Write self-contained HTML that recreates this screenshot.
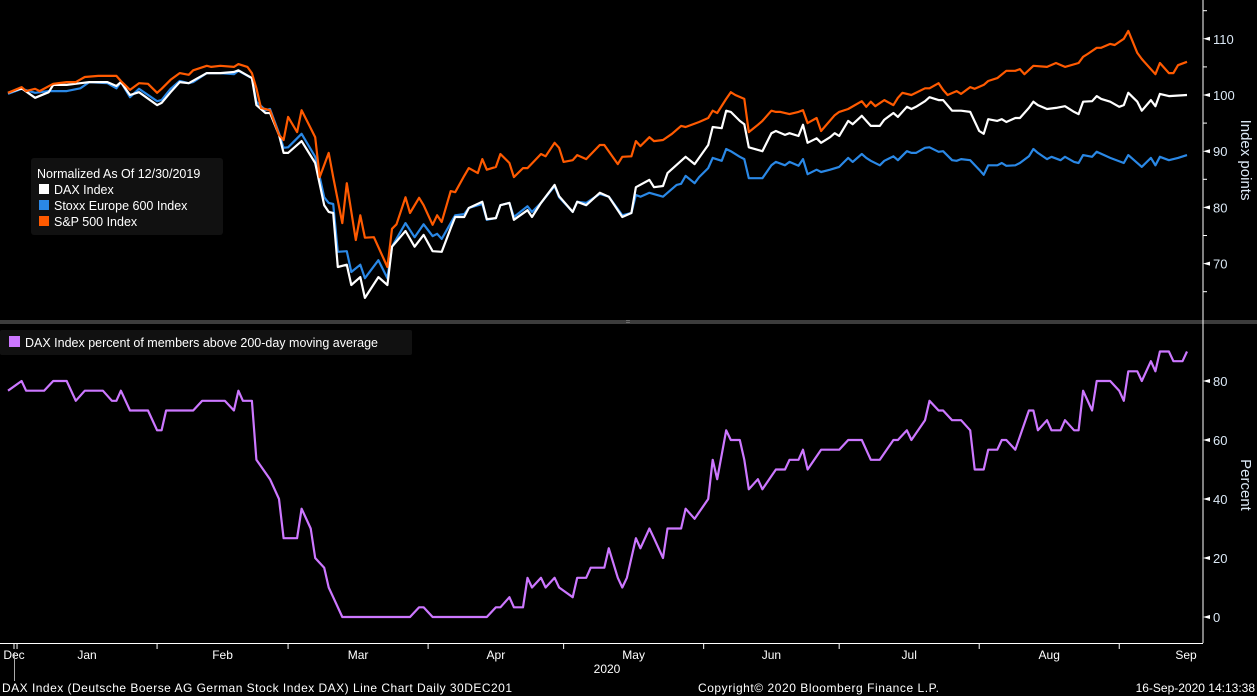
<!DOCTYPE html>
<html><head><meta charset="utf-8"><style>
html,body{margin:0;padding:0;background:#000;}
svg{display:block;font-family:"Liberation Sans",sans-serif;}
</style></head><body>
<svg id="chart" width="1257" height="696" viewBox="0 0 1257 696">
<rect x="0" y="0" width="1257" height="696" fill="#000"/>
<g id="topG"></g>
<rect x="0" y="320" width="1257" height="4" fill="#3c3c3c"/>
<text x="628" y="324" fill="#888" font-size="8" text-anchor="middle">=</text>
<g id="botG"></g>
<g id="axesG"></g>
<g>
<rect x="31" y="158" width="192" height="77" rx="3" fill="#111"/>
<text x="37" y="178" fill="#fff" font-size="12.5">Normalized As Of 12/30/2019</text>
<rect x="39" y="184" width="10" height="10" fill="#fff"/>
<text x="54" y="194" fill="#fff" font-size="12.5">DAX Index</text>
<rect x="39" y="200" width="10" height="10" fill="#2a88e6"/>
<text x="54" y="210" fill="#fff" font-size="12.5">Stoxx Europe 600 Index</text>
<rect x="39" y="216" width="10" height="10" fill="#ff5a00"/>
<text x="54" y="226" fill="#fff" font-size="12.5">S&amp;P 500 Index</text>
</g>
<g>
<rect x="0" y="330" width="412" height="25" rx="2" fill="#111"/>
<rect x="9" y="336" width="11" height="11" fill="#cc77ff"/>
<text x="25" y="347" fill="#fff" font-size="12.5">DAX Index percent of members above 200-day moving average</text>
</g>
<text x="2" y="692" fill="#fff" font-size="12" textLength="510">DAX Index (Deutsche Boerse AG German Stock Index DAX) Line Chart  Daily 30DEC201</text>
<text x="698" y="692" fill="#fff" font-size="12" textLength="241">Copyright© 2020 Bloomberg Finance L.P.</text>
<text x="1255" y="692" fill="#fff" font-size="12" text-anchor="end">16-Sep-2020 14:13:38</text>
</svg>
<script>
const oDays=[0,3,4,6,7,10,13,15,17,20,24,25,27,29,31,33,34,36,38,40,41,44,45,47,50,51,53,54,55,56,58,60,61,62,64,65,67,68,69,71,72,74,75,77,78,79,81,84,85,86,88,89,91,92,94,95,96,98,99,101,102,104,105,106,108,109,111,112,114,115,118,119,121,122,123,125,126,128,131,132,135,136,138,139,140,142,143,145,147,149,150,153,155,156,157,159,160,161,163,164,166,167,169,170,171,173,175,176,177,179,180,183,184,186,189,190,191,192,194,196,197,198,200,201,203,204,206,207,208,210,211,213,214,216,217,219,221,223,224,225,227,230,232,234,237,238,239,241,242,244,245,247,248,250,251,254,255,257,258,259,261];
const spVals=[100.4,101.4,100.7,101.1,100.7,102.0,102.3,102.3,103.2,103.4,103.4,102.5,100.9,102.1,102.0,100.4,101.1,102.7,103.9,103.6,104.4,105.2,105.0,105.2,105.0,105.5,105.0,103.9,101.2,97.7,97.3,92.9,92.0,96.1,93.4,97.3,94.1,92.5,85.4,89.7,85.4,77.2,84.3,74.2,78.6,74.6,74.7,69.4,76.2,77.0,81.8,79.0,81.7,80.4,76.9,78.6,77.4,82.9,82.7,85.6,87.0,86.1,88.6,86.7,87.2,89.5,87.9,85.4,87.0,87.0,89.5,89.1,91.5,90.6,88.1,88.4,89.3,88.6,91.1,91.1,87.7,89.0,89.1,91.8,90.9,92.5,91.8,92.0,93.1,94.5,94.3,95.2,95.9,97.2,96.8,99.3,100.5,100.0,99.3,93.4,94.7,95.4,97.2,97.0,97.0,96.6,97.0,97.3,95.0,95.9,93.6,96.4,97.0,97.5,98.9,97.9,98.8,98.0,99.1,98.2,99.5,100.4,100.0,100.4,101.2,101.2,102.1,100.9,100.0,100.7,100.2,101.4,101.1,101.8,102.5,103.0,104.3,104.3,104.6,103.7,105.2,105.0,105.7,105.0,105.7,106.8,107.3,108.4,108.4,109.1,108.9,110.0,111.4,107.5,106.4,103.7,105.7,103.9,103.9,105.3,105.9];
const daxDays=[0,3,6,9,10,13,16,18,22,24,25,27,29,33,34,36,38,40,44,47,50,51,54,55,57,58,60,61,62,65,68,70,71,72,73,75,76,78,79,82,84,85,88,90,92,94,96,98,99,101,102,105,106,108,109,111,112,115,116,118,121,122,125,126,128,131,133,136,138,139,142,143,145,146,150,152,155,156,158,159,160,162,163,164,167,169,170,172,173,175,176,177,179,180,182,183,184,186,187,189,190,191,193,194,196,197,199,200,201,203,204,206,207,209,211,213,215,216,217,219,220,221,223,224,226,227,228,230,232,234,236,237,238,240,241,242,244,246,247,248,250,251,253,254,255,257,261];
const daxVals=[100.4,101.2,99.5,100.5,101.8,101.8,102.1,102.3,102.3,101.6,102.3,100.0,100.5,98.2,98.6,100.5,102.3,102.1,103.9,103.9,104.1,104.4,103.0,98.2,96.8,96.8,92.9,89.7,89.7,91.8,87.9,80.4,79.2,79.0,69.4,69.8,66.2,67.6,63.9,67.6,66.2,73.0,75.8,73.0,75.1,72.2,72.1,76.3,78.3,78.3,79.9,81.0,77.9,78.1,80.4,80.8,77.8,79.5,78.3,80.8,84.0,82.0,79.2,81.0,80.4,82.6,81.9,78.3,79.0,83.6,84.9,83.6,83.8,86.1,89.0,87.7,91.1,94.3,94.1,97.2,97.0,95.4,94.8,90.7,90.0,93.2,93.6,92.9,93.2,92.7,94.7,91.5,92.3,91.5,92.5,93.2,92.7,95.4,94.8,96.3,95.4,94.5,94.5,95.6,96.8,96.1,97.9,97.5,97.9,98.9,99.6,99.1,99.1,97.2,97.2,97.0,93.6,93.1,95.7,95.4,95.7,95.2,95.9,95.9,97.7,98.8,98.2,97.5,97.7,98.0,97.0,96.6,98.8,98.9,99.8,99.3,98.8,97.9,98.2,100.4,98.8,97.2,99.1,98.0,100.2,99.8,100.0];
const stoxxDays=[0,3,6,9,13,16,18,22,24,25,27,29,33,34,36,38,40,41,44,47,50,51,54,55,57,58,60,61,62,65,68,70,71,72,73,75,76,78,79,82,84,85,88,90,92,94,95,96,98,99,101,102,105,106,108,109,111,112,115,116,118,121,122,125,126,128,131,133,136,138,139,140,142,145,148,149,150,152,153,155,156,158,159,160,162,163,164,167,169,170,172,173,175,176,177,179,180,182,184,186,187,189,190,191,193,194,196,197,199,200,201,203,204,206,207,209,210,211,213,215,216,217,219,220,221,223,224,226,227,228,230,231,233,234,236,237,238,240,241,244,247,248,251,253,254,255,257,259,261];
const stoxxVals=[100.2,101.1,100.4,100.7,100.7,101.2,102.3,102.1,101.2,102.3,99.6,101.1,98.9,99.1,101.1,102.5,102.1,102.3,103.9,103.9,103.7,104.3,103.0,98.8,97.3,97.5,93.2,90.6,90.7,93.1,89.0,81.8,80.8,80.6,72.1,72.2,68.5,69.8,67.4,70.6,67.4,73.0,77.2,74.7,77.0,74.9,75.3,74.4,77.2,78.6,78.8,79.9,80.6,77.8,78.1,80.4,80.8,78.3,80.2,79.2,80.8,83.8,81.8,79.2,81.0,80.8,82.4,81.9,78.6,79.0,82.2,81.9,82.6,81.9,84.0,84.2,85.6,84.3,85.4,87.0,88.8,88.3,90.4,90.0,89.0,88.6,85.2,85.2,87.5,88.1,87.5,88.1,87.4,88.6,85.9,86.7,86.3,86.7,87.2,88.8,88.1,89.5,88.8,88.3,87.5,88.3,89.1,88.4,90.0,89.7,89.7,90.6,90.7,89.9,90.0,88.4,88.3,88.6,88.4,86.7,85.8,87.5,87.5,87.9,87.4,87.5,87.9,89.1,90.4,89.7,88.6,89.0,88.4,89.0,88.1,87.9,89.3,89.0,89.9,88.8,87.9,89.3,87.2,88.8,87.5,89.0,88.4,88.8,89.3];
const pctDays=[0,3,4,8,10,13,15,17,21,23,24,25,27,31,33,34,35,41,43,48,50,51,52,54,55,58,60,61,64,65,67,68,70,71,72,74,89,91,92,94,106,108,109,111,112,114,115,116,118,119,121,122,125,126,128,129,132,133,135,136,137,139,140,142,143,145,146,149,150,152,155,156,157,159,160,162,163,164,166,167,170,172,173,175,176,177,180,184,186,189,191,193,196,197,199,200,203,204,206,207,209,211,213,214,216,217,219,220,221,223,226,227,228,230,231,233,234,236,237,238,240,241,244,246,247,248,250,251,253,254,255,257,258,260,261];
const pctVals=[76.7,80,76.7,76.7,80,80,73.3,76.7,76.7,73.3,73.3,76.7,70,70,63.3,63.3,70,70,73.3,73.3,70,76.7,73.3,73.3,53.3,46.7,40,26.7,26.7,36.7,30,20,16.7,10,6.7,0,0,3.3,3.3,0,0,3.3,3.3,6.7,3.3,3.3,13.3,10,13.3,10,13.3,10,6.7,13.3,13.3,16.7,16.7,23.3,13.3,10,13.3,26.7,23.3,30,26.7,20,30,30,36.7,33.3,40,53.3,46.7,63.3,60,60,53.3,43.3,46.7,43.3,50,50,53.3,53.3,56.7,50,56.7,56.7,60,60,53.3,53.3,60,60,63.3,60,66.7,73.3,70,70,66.7,66.7,63.3,50,50,56.7,56.7,60,60,56.7,70,70,63.3,66.7,63.3,63.3,66.7,63.3,63.3,76.7,70,80,80,76.7,73.3,83.3,83.3,80,86.7,83.3,90,90,86.7,86.7,90];
const topTicks=[110,100,90,80,70];
const botTicks=[80,60,40,20,0];
const months=["Jan","Feb","Mar","Apr","May","Jun","Jul","Aug","Sep"];
const monthDays=[2,33,62,93,123,154,184,215,246];

const NS="http://www.w3.org/2000/svg";
const X0=8, PXD=(1187-8)/261;
function xs(d){return X0+d*PXD;}
function yTop(v){return 95-(v-100)*5.62;}
function yBot(v){return 617-v*2.95;}
function mk(tag,attrs,parent){const e=document.createElementNS(NS,tag);for(const k in attrs)e.setAttribute(k,attrs[k]);parent.appendChild(e);return e;}
const topG=document.getElementById('topG'), botG=document.getElementById('botG'), axesG=document.getElementById('axesG');
function drawLine(days,vals,yf,color,parent,name){
  const n=Math.min(days.length,vals.length);
  const pts=[];
  for(let i=0;i<n;i++) pts.push(xs(days[i]).toFixed(1)+","+yf(vals[i]).toFixed(1));
  const p=mk('polyline',{points:pts.join(" "),fill:'none',stroke:color,'stroke-width':2.2,'stroke-linejoin':'round'},parent);
  
  
}
drawLine(stoxxDays,stoxxVals,yTop,'#2a88e6',topG,'stoxx-600-line');
drawLine(daxDays,daxVals,yTop,'#ffffff',topG,'dax-line');
drawLine(oDays,spVals,yTop,'#ff5a00',topG,'sp500-line');
drawLine(pctDays,pctVals,yBot,'#cc77ff',botG,'dax-pct-above-200dma-line');

const AX=1203;
let a=mk('line',{x1:AX,y1:0,x2:AX,y2:643,stroke:'#fff','stroke-width':1},axesG);


function yTicks(ticks,yf,minor,name){
  ticks.forEach(v=>{
    const y=yf(v);
    const t=mk('path',{d:`M${AX} ${y} L${AX+7} ${y-2} L${AX+7} ${y+2} Z`,fill:'#fff'},axesG);
    
    
    const l=mk('text',{x:AX+10,y:y+5,fill:'#dbe8f5','font-size':13},axesG);
    l.textContent=v;
    
    
  });
  minor.forEach(v=>{
    const y=yf(v);
    const m=mk('line',{x1:AX,y1:y,x2:AX+4,y2:y,stroke:'#fff'},axesG);
    
    
  });
}
yTicks(topTicks,yTop,[115,105,95,85,75,65],'index-axis');
yTicks(botTicks,yBot,[],'percent-axis');
function vtitle(txt,y,name){
  const t=mk('text',{x:0,y:0,fill:'#dbe8f5','font-size':15,'text-anchor':'middle',transform:`translate(1241 ${y}) rotate(90)`},axesG);
  t.textContent=txt;
  
  
}
vtitle('Index points',160,'index-axis-title');
vtitle('Percent',485,'percent-axis-title');

a=mk('line',{x1:0,y1:643.5,x2:AX,y2:643.5,stroke:'#fff','stroke-width':1},axesG);


const tk=mk('line',{x1:14,y1:643,x2:14,y2:649,stroke:'#fff'},axesG);


const dl=mk('text',{x:14,y:659,fill:'#fff','font-size':12,'text-anchor':'middle'},axesG);
dl.textContent='Dec';


monthDays.forEach((d,i)=>{
  const x=xs(d);
  const t=mk('line',{x1:x,y1:643,x2:x,y2:649,stroke:'#fff'},axesG);
  
  
  const nx=i<monthDays.length-1?xs(monthDays[i+1]):1255;
  const l=mk('text',{x:i<monthDays.length-1?(x+nx)/2:1186,y:659,fill:'#fff','font-size':12,'text-anchor':'middle'},axesG);
  l.textContent=months[i];
  
  
});
const yr=mk('text',{x:607,y:673,fill:'#fff','font-size':12,'text-anchor':'middle'},axesG);
yr.textContent='2020';


const yl=mk('line',{x1:14.5,y1:652,x2:14.5,y2:681,stroke:'#aaa'},axesG);


</script>
</body></html>
